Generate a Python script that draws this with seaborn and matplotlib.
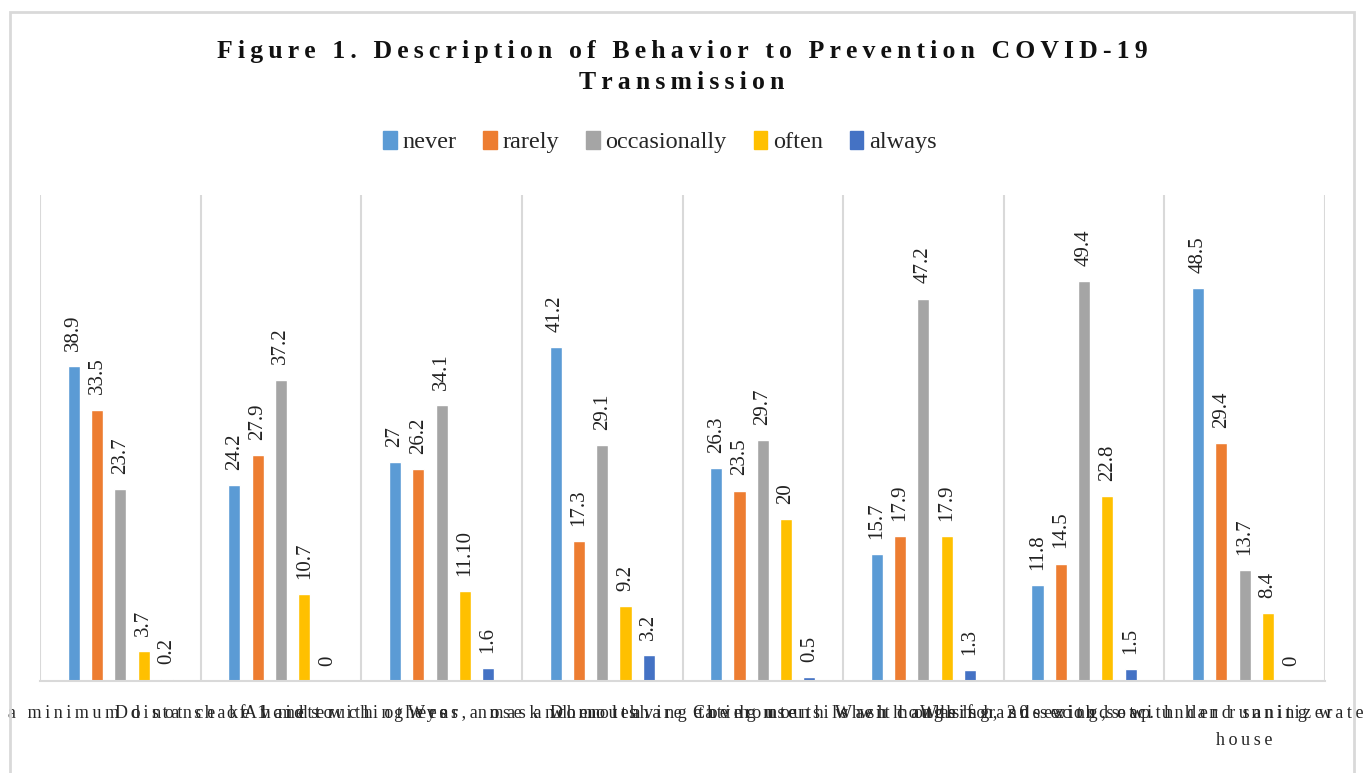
import numpy as np
import pandas as pd
import matplotlib
matplotlib.use("Agg")
import matplotlib.pyplot as plt
import matplotlib.patches as mpatches
import seaborn as sns

# data (kept as printed, e.g. "11.10")
behaviors = [
    "Maintain a minimum distance of 1 meter",
    "Do not shake hands with others",
    "Avoid touching eyes, nose and mouth",
    "Wear a mask when leaving the house",
    "Do not share eating utensils with others",
    "Cover mouth when coughing, sneezing, etc.",
    "Wash hands for 20 seconds with hand sanitizer",
    "Wash hands with soap under running water after entering the\nhouse",
]
levels = ["never", "rarely", "occasionally", "often", "always"]
never = ["38.9", "24.2", "27", "41.2", "26.3", "15.7", "11.8", "48.5"]
rarely = ["33.5", "27.9", "26.2", "17.3", "23.5", "17.9", "14.5", "29.4"]
occasionally = ["23.7", "37.2", "34.1", "29.1", "29.7", "47.2", "49.4", "13.7"]
often = ["3.7", "10.7", "11.10", "9.2", "20", "17.9", "22.8", "8.4"]
always = ["0.2", "0", "1.6", "3.2", "0.5", "1.3", "1.5", "0"]
colors = ["#5B9BD5", "#ED7D31", "#A5A5A5", "#FFC000", "#4472C4"]

series = dict(zip(levels, [never, rarely, occasionally, often, always]))
rows = []
for lev, vals in series.items():
    for b, v in zip(behaviors, vals):
        rows.append({"behavior": b, "level": lev, "value": float(v)})
df = pd.DataFrame(rows)


def spaced(s, sep="\u2009"):
    # imitate the expanded character spacing of the original
    return "\n".join(sep.join(line) for line in s.split("\n"))


sns.set_style("white")
plt.rcParams["font.family"] = ["Liberation Serif", "DejaVu Serif"]

fig = plt.figure(figsize=(13.67, 7.73), dpi=100)
ax = fig.add_axes([40 / 1367, 1 - 681 / 773, 1285 / 1367, 486 / 773])

sns.barplot(data=df, x="behavior", y="value", hue="level", order=behaviors,
            hue_order=levels, palette=colors, width=0.725, gap=0.48,
            saturation=1, legend=False, ax=ax)

for cont, lev in zip(ax.containers, levels):
    ax.bar_label(cont, labels=series[lev], rotation=90, padding=11,
                 fontsize=15, color="#222222")

ax.set_ylim(0, 60)
ax.set_xlim(-0.5, len(behaviors) - 0.5)
ax.set_yticks([])
ax.set_xlabel("")
ax.set_ylabel("")
ax.set_xticks(range(len(behaviors)))
ax.set_xticklabels([spaced(b) for b in behaviors], fontsize=13,
                   linespacing=1.75)
ax.tick_params(axis="x", length=0, pad=17)
ax.set_xticks(np.arange(-0.5, len(behaviors), 1), minor=True)
ax.tick_params(axis="x", which="minor", length=0)
ax.grid(False)
ax.grid(True, axis="x", which="minor", color="#D9D9D9", lw=1.5)
for side in ["top", "right", "left"]:
    ax.spines[side].set_visible(False)
ax.spines["bottom"].set_color("#D9D9D9")
ax.spines["bottom"].set_linewidth(1.5)

# chart frame
fig.patches.append(mpatches.Rectangle((10 / 1367, -0.02), 1344 / 1367, 1 - 12 / 773 + 0.02,
                                      transform=fig.transFigure, fill=False,
                                      edgecolor="#D9D9D9", lw=2))

title = "Figure 1. Description of Behavior to Prevention COVID-19\nTransmission"
fig.text(682 / 1367, 1 - 67 / 773, spaced(title), ha="center", va="center",
         fontsize=18.5, fontweight="bold", linespacing=1.45, color="#111111")

handles = [mpatches.Patch(color=c) for c in colors]
fig.legend(handles, levels, loc="center", bbox_to_anchor=(660 / 1367, 1 - 142 / 773),
           ncol=5, frameon=False, fontsize=17.5, handlelength=0.55,
           handleheight=0.75, handletextpad=0.25, columnspacing=1.1)

fig.savefig("out.png", dpi=100)
